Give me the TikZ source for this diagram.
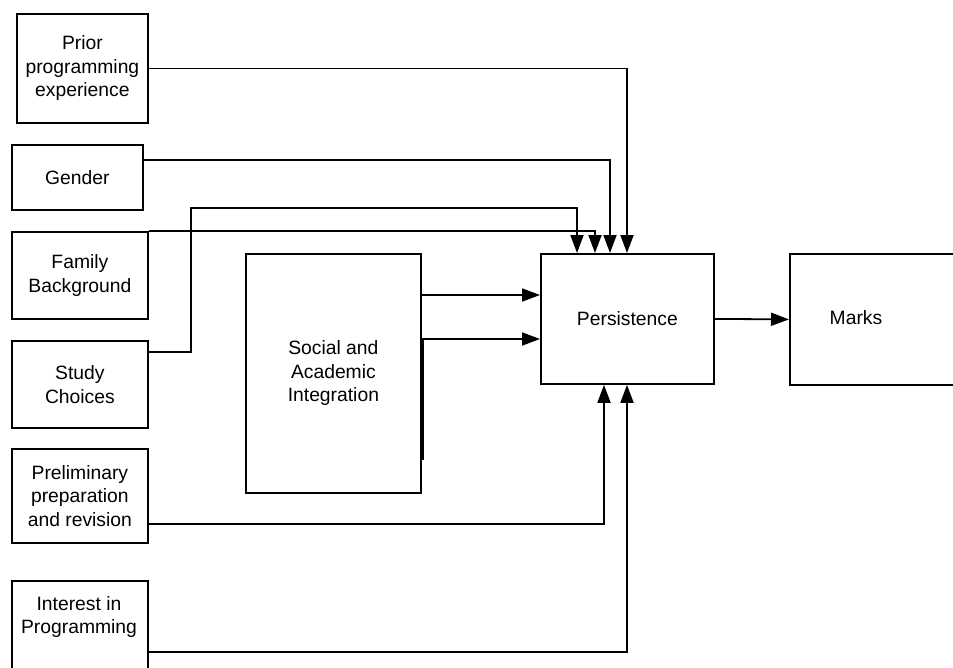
\documentclass[tikz,border=0pt]{standalone}
\usepackage{fontspec}
\setmainfont{Liberation Sans}
\usetikzlibrary{arrows.meta,calc}
\begin{document}
\begin{tikzpicture}[x=1pt,y=-1pt,
  box/.style={draw,line width=1.8pt,anchor=north west,inner sep=0pt,align=center,
    font=\fontsize{19.3}{23.5}\selectfont},
  lbl/.style={inner sep=0pt,align=center,font=\fontsize{19.3}{23.5}\selectfont},
  conn/.style={line width=1.8pt},
  arr/.style={conn,-{Triangle[length=18pt,width=13pt]}}]
\clip (0,0) rectangle (953,667);
\fill[white] (0,0) rectangle (953,667);
\node[box,minimum width=131pt,minimum height=109pt] (prior) at (16,13) {Prior\\programming\\experience};
\node[box,minimum width=131pt,minimum height=65pt] (gender) at (11,144) {Gender};
\node[box,minimum width=136pt,minimum height=87pt] (family) at (11,231) {Family\\Background};
\node[box,minimum width=136pt,minimum height=87pt] (study) at (11,340) {Study\\Choices};
\node[box,minimum width=136pt,minimum height=94pt] (prelim) at (11,448) {Preliminary\\preparation\\and revision};
\node[box,minimum width=136pt,minimum height=100pt] (interest) at (11,580) {};
\node[lbl] (interesttext) at (79,617) {Interest in\\Programming};
\node[box,minimum width=175pt,minimum height=239pt] (social) at (245,253) {Social and\\Academic\\Integration};
\node[box,minimum width=173pt,minimum height=130pt] (persist) at (540,253) {Persistence};
\node[box,minimum width=180pt,minimum height=131pt] (marks) at (789,253) {};
\node[lbl] (markstext) at (856,318) {Marks};
% entry points on Persistence
\coordinate (t1) at ($(persist.north west)+(37,0)$);
\coordinate (t2) at ($(persist.north west)+(55,0)$);
\coordinate (t3) at ($(persist.north west)+(70,0)$);
\coordinate (t4) at ($(persist.north west)+(87,0)$);
\coordinate (b1) at ($(persist.south west)+(64,0)$);
\coordinate (b2) at ($(persist.south west)+(87,0)$);
\coordinate (gs) at ($(gender.north east)+(0,16)$);
\coordinate (ss) at ($(study.north east)+(0,12)$);
\coordinate (sbend) at (191,208);
\coordinate (ps) at ($(prelim.south east)+(0,-20)$);
\coordinate (is) at (147,652);
\coordinate (so1) at ($(social.north east)+(0,42)$);
\coordinate (so2) at ($(social.north east)+(0,86)$);
\coordinate (so3) at ($(social.north east)+(1.5,86)$);
\coordinate (so4) at ($(social.north east)+(1.5,207)$);
\draw[arr] (prior.east) -| (t4);
\draw[arr] (gs) -| (t3);
\draw[arr] (family.north east) -| (t2);
\draw[arr] (ss) -| (sbend) -| (t1);
\draw[arr] (ps) -| (b1);
\draw[arr] (is) -| (b2);
\draw[arr] (so1) -- (so1 -| persist.west);
\draw[arr] (so2) -- (so2 -| persist.west);
\draw[conn] (so3) -- (so4);
\draw[arr] (persist.east) -- (marks.west);
\end{tikzpicture}
\end{document}
